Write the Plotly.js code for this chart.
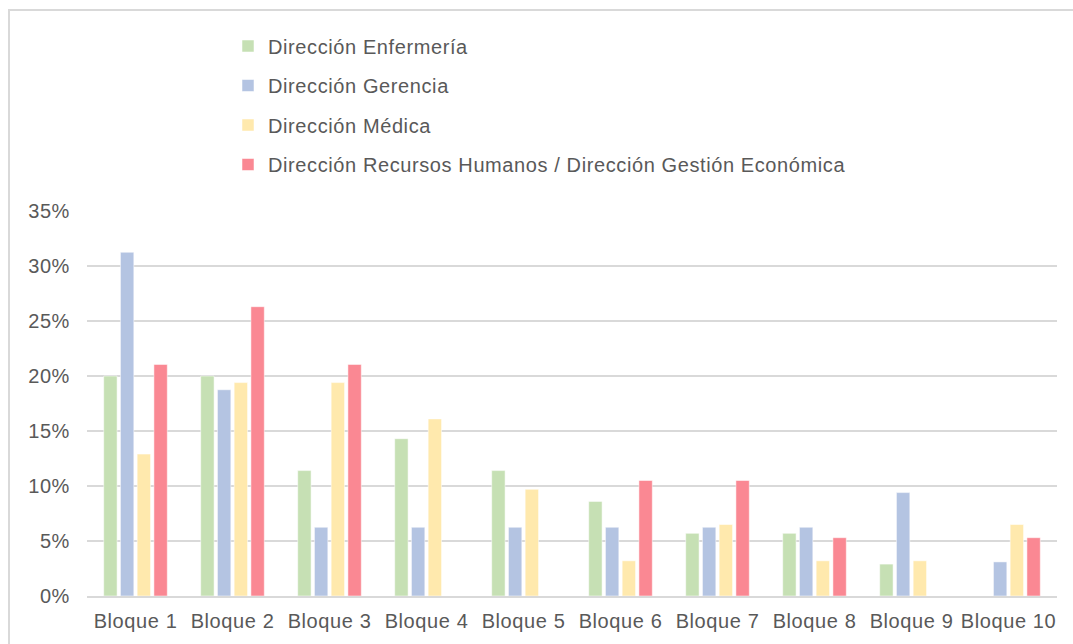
<!DOCTYPE html>
<html>
<head>
<meta charset="utf-8">
<script src="https://cdn.plot.ly/plotly-3.0.1.min.js"></script>
<style>
html,body{margin:0;padding:0;background:#fff;}
#chart{width:1073px;height:644px;}
#chart .legendtext, #chart .xtick text, #chart .ytick text{letter-spacing:0.6px;}
#chart .legend .scrollbox{clip-path:none !important;}
</style>
</head>
<body>
<div id="chart"></div>
<script>
const categories = ["Bloque 1","Bloque 2","Bloque 3","Bloque 4","Bloque 5","Bloque 6","Bloque 7","Bloque 8","Bloque 9","Bloque 10"];
const seriesNames = ["Dirección Enfermería","Dirección Gerencia","Dirección Médica","Dirección Recursos Humanos / Dirección Gestión Económica"];
const enfermeria = [0.200, 0.200, 0.114, 0.143, 0.114, 0.086, 0.057, 0.057, 0.029, 0];
const gerencia   = [0.3125, 0.1875, 0.0625, 0.0625, 0.0625, 0.0625, 0.0625, 0.0625, 0.094, 0.031];
const medica     = [0.129, 0.194, 0.194, 0.161, 0.097, 0.032, 0.065, 0.032, 0.032, 0.065];
const rrhh       = [0.2105, 0.263, 0.2105, 0, 0, 0.105, 0.105, 0.053, 0, 0.053];
const colors = ["#c6e0b4","#b4c4e2","#ffe9ad","#fa8893"];

const seriesValues = [enfermeria, gerencia, medica, rrhh];
const traces = seriesValues.map((vals, i) => ({
  type: "bar",
  name: seriesNames[i],
  x: categories,
  y: vals,
  legendgroup: "g" + i,
  marker: {color: colors[i], line: {color: "rgba(255,255,255,0.5)", width: 1}},
  hoverinfo: "x+y+name"
}));

const fontFam = "'Liberation Sans', Arial, sans-serif";
const textColor = "#595959";

const layout = {
  width: 1073,
  height: 644,
  margin: {l: 87, r: 16, t: 211, b: 48},
  paper_bgcolor: "#fff",
  plot_bgcolor: "#fff",
  font: {family: fontFam, size: 20, color: textColor},
  barmode: "group",
  bargap: 0.31,
  bargroupgap: 0.2,
  showlegend: true,
  legend: {
    x: (228 - 87) / 970,
    xanchor: "left",
    y: 1 + (211 - 26.5) / 385,
    yanchor: "top",
    orientation: "v",
    tracegroupgap: 10.5,
    font: {family: fontFam, size: 20, color: textColor},
    bgcolor: "rgba(0,0,0,0)"
  },
  xaxis: {
    type: "category",
    showgrid: false,
    showline: true,
    linecolor: "#d9d9d9",
    linewidth: 2,
    ticks: "",
    ticklabelstandoff: 6,
    tickfont: {family: fontFam, size: 20, color: textColor}
  },
  yaxis: {
    range: [0, 0.35],
    dtick: 0.05,
    tickformat: ".0%",
    showgrid: true,
    gridcolor: "#d9d9d9",
    gridwidth: 2,
    zeroline: false,
    showline: false,
    ticks: "",
    ticklabelstandoff: 16,
    tickfont: {family: fontFam, size: 20, color: textColor}
  },
  shapes: [{
    type: "rect",
    xref: "paper", yref: "paper",
    x0: (9 - 87) / 970, x1: (1090 - 87) / 970,
    y0: (596 - 660) / 385, y1: 1 + (211 - 10) / 385,
    line: {color: "#d9d9d9", width: 2},
    fillcolor: "rgba(0,0,0,0)",
    layer: "below"
  }]
};

Plotly.newPlot("chart", traces, layout, {displayModeBar: false, staticPlot: true});
</script>
</body>
</html>
